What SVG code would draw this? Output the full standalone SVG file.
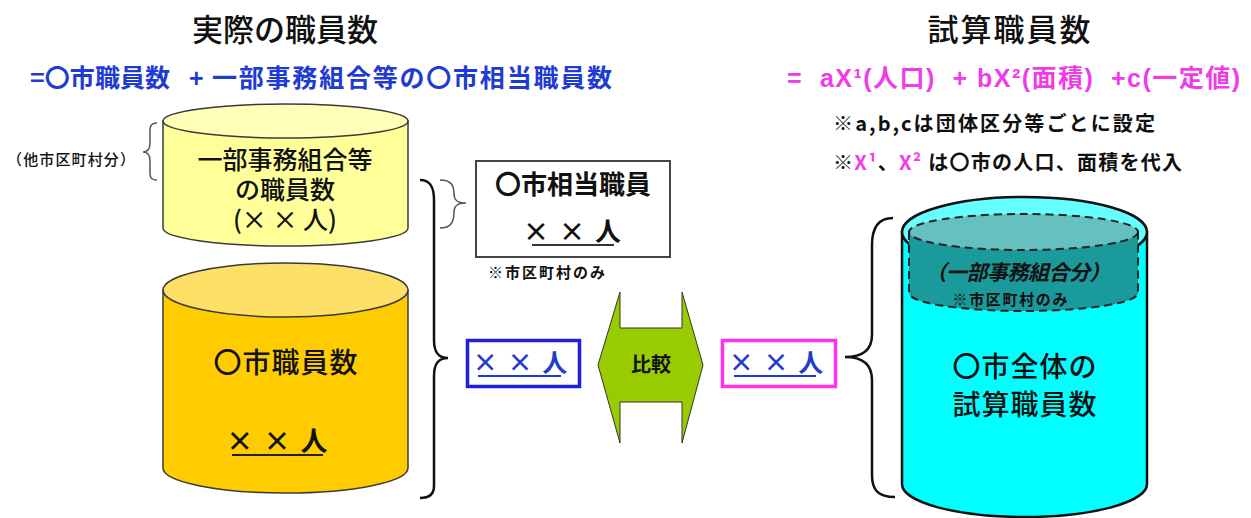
<svg xmlns="http://www.w3.org/2000/svg" width="1251" height="518" viewBox="0 0 1251 518">
<style>
text{font-family:"Noto Sans CJK JP",sans-serif;font-weight:bold;fill:#111}
.lat{font-family:"Liberation Sans","Noto Sans CJK JP",sans-serif}
.title{font-size:31px;font-weight:500}
.med{font-weight:500}
.blue{fill:#1f3cd2}
.mag{fill:#f03ce8}
.cyl{stroke:#3a3a3a;stroke-width:1.5}
.brace{fill:none;stroke:#111;stroke-width:2.5}
.thin{fill:none;stroke:#555;stroke-width:1.5}
.ul{stroke-width:2}
</style>
<rect width="1251" height="518" fill="#fff"/>

<g id="left-header">
<text class="title" x="285" y="41" text-anchor="middle">実際の職員数</text>
<text class="blue" x="30" y="87" font-size="25" textLength="140" lengthAdjust="spacing">=〇市職員数</text>
<text class="blue lat" x="189" y="87" font-size="25">+</text>
<text class="blue" x="212" y="87" font-size="25" textLength="400" lengthAdjust="spacing">一部事務組合等の〇市相当職員数</text>
</g>

<g id="right-header">
<text class="title" x="1010" y="41" text-anchor="middle" letter-spacing="2">試算職員数</text>
<text class="mag lat" x="787" y="87" font-size="25" textLength="453" lengthAdjust="spacing" xml:space="preserve">=  aX¹(人口)  + bX²(面積)  +c(一定値)</text>
<text x="833" y="131" font-size="20" textLength="322" lengthAdjust="spacing">※a,b,cは団体区分等ごとに設定</text>
<text x="833" y="170" font-size="20" textLength="349" lengthAdjust="spacing">※<tspan class="mag">X¹</tspan>、<tspan class="mag">X²</tspan> は〇市の人口、面積を代入</text>
</g>

<g id="other-cities">
<text class="med" x="7" y="165" font-size="15" textLength="128" lengthAdjust="spacing">（他市区町村分）</text>
</g>

<g id="union-staff">
<path class="cyl" d="M163,121 L163,228 A122.5,18 0 0 0 408,228 L408,121 Z" fill="#ffff99"/>
<ellipse class="cyl" cx="285.5" cy="121" rx="122.5" ry="17" fill="#ffffb8"/>
<text class="med" x="285" y="169" font-size="25" text-anchor="middle">一部事務組合等</text>
<text class="med" x="285" y="199" font-size="25" text-anchor="middle">の職員数</text>
<text class="med" x="285" y="229" font-size="25" text-anchor="middle">(× × 人)</text>
</g>

<g id="city-staff">
<path class="cyl" d="M163,290 L163,468 A122.5,25 0 0 0 408,468 L408,290 Z" fill="#ffcc00"/>
<ellipse class="cyl" cx="285.5" cy="290" rx="122.5" ry="27" fill="#ffe066"/>
<text class="med" x="286" y="373" font-size="28" text-anchor="middle" letter-spacing="1">〇市職員数</text>
<text x="278" y="451" font-size="27" text-anchor="middle" letter-spacing="2">× × 人</text>
<line class="ul" x1="232" y1="455" x2="323" y2="455" stroke="#222"/>
</g>

<g id="equiv-box">
<rect x="476" y="161" width="194" height="96" fill="#fff" stroke="#444" stroke-width="2"/>
<text x="573" y="194" font-size="26" text-anchor="middle">〇市相当職員</text>
<text x="573" y="241" font-size="26" text-anchor="middle" letter-spacing="2">× × 人</text>
<line class="ul" x1="532" y1="245" x2="614" y2="245" stroke="#333"/>
<text x="488" y="278" font-size="15" textLength="117" lengthAdjust="spacing">※市区町村のみ</text>
</g>

<g id="actual-box">
<rect x="467.5" y="340.5" width="112" height="46" fill="#fff" stroke="#2020dd" stroke-width="3.5"/>
<text class="blue" x="521" y="372" font-size="25" text-anchor="middle" letter-spacing="2">× × 人</text>
<line class="ul" x1="478" y1="376" x2="561" y2="376" stroke="#1f3cd2"/>
</g>

<g id="compare">
<polygon points="620,292 620,328 682,328 682,292 703,365 682,443 682,402 620,402 620,443 598,365" fill="#99cc00" stroke="#333" stroke-width="1"/>
<text x="651" y="372" font-size="20" text-anchor="middle">比較</text>
</g>

<g id="estimate-box">
<rect x="722.5" y="340.5" width="113" height="46" fill="#fff" stroke="#ff33ee" stroke-width="3.5"/>
<text class="blue" x="777" y="372" font-size="25" text-anchor="middle" letter-spacing="2">× × 人</text>
<line class="ul" x1="734" y1="376" x2="816" y2="376" stroke="#1f3cd2"/>
</g>

<g id="estimate-cylinder">
<path d="M902,232 L902,484 A122.5,33 0 0 0 1147,484 L1147,232 Z" fill="#00ffff" stroke="#111" stroke-width="2.5"/>
<ellipse cx="1024.5" cy="232" rx="122.5" ry="35" fill="#66ffff" stroke="#111" stroke-width="2.5"/>
<path d="M909,232 L909,293 A114.5,18 0 0 0 1138,293 L1138,232 Z" fill="#1a9a9a" stroke="#222" stroke-width="2" stroke-dasharray="8,5"/>
<ellipse cx="1023.5" cy="232" rx="114.5" ry="18" fill="#66c0c0" stroke="#222" stroke-width="2" stroke-dasharray="8,5"/>
<text x="1018" y="280" font-size="21" font-style="italic" text-anchor="middle" textLength="185" lengthAdjust="spacing">（一部事務組合分）</text>
<text x="1010" y="305" font-size="15" text-anchor="middle" textLength="115" lengthAdjust="spacing">※市区町村のみ</text>
<text class="med" x="1025" y="377" font-size="28" text-anchor="middle" letter-spacing="1">〇市全体の</text>
<text class="med" x="1025" y="415" font-size="28" text-anchor="middle" letter-spacing="1">試算職員数</text>
</g>

<g id="connectors">
<path class="thin" d="M157,123 C149,123 150,129 150,136 L150,143 C150,149 148,152 143,152 C148,152 150,155 150,161 L150,168 C150,175 149,180 157,180"/>
<path class="brace" d="M420,180 C431,180 434,188 434,200 L434,340 C434,352 438,358 448,358 C438,358 434,364 434,376 L434,486 C434,494 430,498 420,498"/>
<path class="thin" d="M440,180 C451,180 454,185 454,194 C454,200 457,203 466,203 C457,203 454,206 454,212 C454,222 451,228 440,228"/>
<path class="brace" d="M893,218 C878,218 872,228 872,245 L872,335 C872,350 862,357 845,357 C862,357 872,364 872,380 L872,475 C872,490 878,497 895,497"/>
</g>
</svg>
